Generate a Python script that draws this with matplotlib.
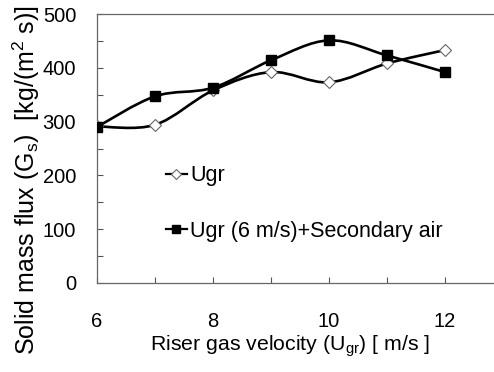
import matplotlib
matplotlib.use("Agg")
import matplotlib.pyplot as plt
from matplotlib.path import Path
from matplotlib.patches import PathPatch
from matplotlib.lines import Line2D
from matplotlib.ticker import MultipleLocator
import numpy as np

plt.rcParams['font.family'] = ['Liberation Sans', 'DejaVu Sans']

velocity = [6, 7, 8, 9, 10, 11, 12]
flux_ugr = [291, 294, 358, 392, 373, 408, 433]
flux_secondary = [290, 347, 363, 414, 451, 423, 392]
label_ugr = "Ugr"
label_secondary = "Ugr (6 m/s)+Secondary air"


def smooth_path(xs, ys):
    # Excel-style smoothed line: cubic Bezier through every point
    p = np.column_stack([xs, ys]).astype(float)
    n = len(p)
    verts = [p[0]]
    codes = [Path.MOVETO]
    for i in range(n - 1):
        prev = p[i - 1] if i > 0 else p[i]
        nxt = p[i + 2] if i + 2 < n else p[i + 1]
        c1 = p[i] + (p[i + 1] - prev) / 6
        c2 = p[i + 1] - (nxt - p[i]) / 6
        verts += [c1, c2, p[i + 1]]
        codes += [Path.CURVE4] * 3
    return Path(verts, codes)


fig = plt.figure(figsize=(4.94, 3.72), dpi=100)
ax = fig.add_axes([97 / 494, 89 / 372, 406 / 494, 269 / 372])

for ys in (flux_ugr, flux_secondary):
    ax.add_patch(PathPatch(smooth_path(velocity, ys), fill=False,
                           edgecolor='black', lw=1.9, zorder=2))

ax.plot(velocity, flux_ugr, ls='none', marker='D', ms=6.3, mfc='white',
        mec='#666666', mew=0.8, zorder=3)
ax.plot(velocity, flux_secondary, ls='none', marker='s', ms=7.2,
        mfc='black', mec='black', zorder=3)

ax.set_xlim(6, 13)
ax.set_ylim(0, 500)
ax.xaxis.set_major_locator(MultipleLocator(2))
ax.xaxis.set_minor_locator(MultipleLocator(1))
ax.yaxis.set_major_locator(MultipleLocator(100))
ax.yaxis.set_minor_locator(MultipleLocator(50))
ax.tick_params(which='both', direction='in', length=4, width=0.8,
               color='#555555', labelsize=14.5)
ax.tick_params(axis='x', which='both', top=False, pad=21)
ax.tick_params(axis='y', which='both', right=False, pad=15)

for s in ax.spines.values():
    s.set_color('#666666')
    s.set_linewidth(0.9)

ax.set_xlabel(r"Riser gas velocity (U$_{\mathregular{gr}}$) [ m/s ]",
              fontsize=15.3)
ax.xaxis.set_label_coords((290 - 97) / 406, -(350 - 283) / 269, )
ax.xaxis.label.set_va('baseline')
ax.set_ylabel(r"Solid mass flux (G$_{\mathregular{s}}$)  [kg/(m$^{\mathregular{2}}$ s)]",
              fontsize=18)
ax.yaxis.set_label_coords((26 - 97) / 406, (283 - 180) / 269)
ax.yaxis.label.set_va('center')

h1 = Line2D([], [], color='black', lw=1.6, marker='D', ms=5.5, mfc='white',
            mec='#666666', mew=0.8)
h2 = Line2D([], [], color='black', lw=1.6, marker='s', ms=6, mfc='black')
ax.legend([h1, h2], [label_ugr, label_secondary], loc='upper left',
          bbox_to_anchor=(0.148, 0.47), frameon=False, fontsize=15.5,
          handlelength=1.0, handletextpad=0.15, labelspacing=1.6,
          borderaxespad=0)

fig.savefig("out.png", dpi=100)
